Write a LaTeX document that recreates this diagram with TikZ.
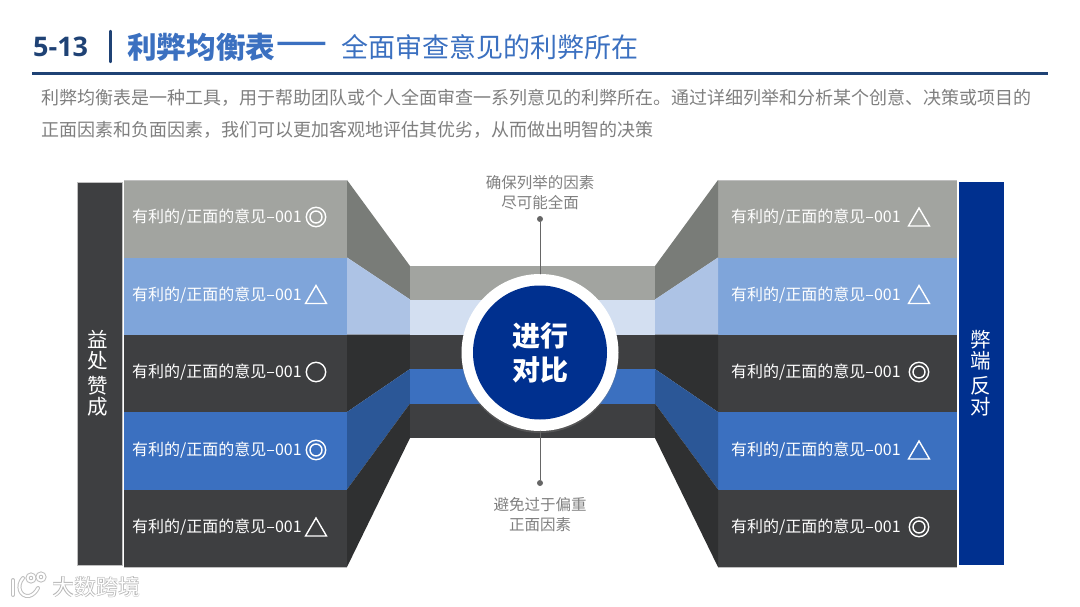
\documentclass[tikz,border=0pt]{standalone}
\usepackage{fontspec}
\setmainfont{Noto Sans CJK SC}
\newfontfamily\numfont{Open Sans}
\usepackage{tikz}
\usetikzlibrary{shadows}
\definecolor{navy}{HTML}{1F4275}
\definecolor{midblue}{HTML}{3B70C0}
\definecolor{deepblue}{HTML}{00308F}
\definecolor{skyblue}{HTML}{7FA5DA}
\definecolor{stone}{HTML}{A2A4A0}
\definecolor{slate}{HTML}{3E3F41}
\definecolor{inktext}{HTML}{7F7F7F}
\definecolor{faceA}{HTML}{797C78}
\definecolor{faceB}{HTML}{ADC3E5}
\definecolor{faceC}{HTML}{2F3031}
\definecolor{faceD}{HTML}{2B5797}
\definecolor{paleblue}{HTML}{D3DFF1}
\begin{document}
\begin{tikzpicture}[x=1pt,y=-1pt,line cap=round,
  rowtext/.style={text=white,font=\fontsize{16}{16}\selectfont,anchor=west,inner sep=0pt},
  signline/.style={draw=white,line width=1.4pt},
  note/.style={text=inktext,font=\fontsize{15.5}{19.5}\selectfont,align=center,inner sep=0pt},
  sidetext/.style={text=white,font=\fontsize{20.5}{22}\selectfont,align=center,inner sep=0pt},
  dotmark/.style={circle,fill=black!60,inner sep=0pt,minimum size=6pt},
  lead/.style={draw=black!60,line width=1pt},
  edgeline/.style={draw=black!25,line width=.6pt,line cap=butt},
  logoline/.style={draw=black!25,double=white,double distance=2pt,line width=1pt}]
\useasboundingbox (0,0) rectangle (1080,607);
% title
\node[anchor=west,inner sep=0pt,text=navy,font=\numfont\bfseries\fontsize{27}{27}\selectfont] (num) at (33,47) {5-13};
\draw[navy,line width=2.4pt] (110.5,31) -- (110.5,62);
\node[anchor=west,inner sep=0pt,text=midblue,font=\bfseries\fontsize{29.6}{30}\selectfont] (title) at (127,47) {利弊均衡表};
\node[anchor=west,inner sep=0pt,text=midblue,font=\bfseries\fontsize{29.6}{30}\selectfont] (dash) at (276,47) {——};
\node[anchor=west,inner sep=0pt,text=midblue,font=\fontsize{27}{30}\selectfont] (sub) at (341,47) {全面审查意见的利弊所在};
\draw[navy,line width=3pt,line cap=butt] (32,74) -- (1048,74);
\node[anchor=west,inner sep=0pt,text=inktext,font=\fontsize{18}{18}\selectfont] (introa) at (41,98) {利弊均衡表是一种工具，用于帮助团队或个人全面审查一系列意见的利弊所在。通过详细列举和分析某个创意、决策或项目的};
\node[anchor=west,inner sep=0pt,text=inktext,font=\fontsize{18}{18}\selectfont] (introb) at (41,130) {正面因素和负面因素，我们可以更加客观地评估其优劣，从而做出明智的决策};
% side bars
\fill[slate] (77,182) rectangle (122,565);
\draw[edgeline] (77,182) rectangle (122,565);
\fill[deepblue] (959,182) rectangle (1004,565);
\node[sidetext] (pros) at (98,373) {益\\[-1pt]处\\[3pt]赞\\[-1pt]成};
\node[sidetext] (cons) at (980.5,373) {弊\\[-1pt]端\\[3pt]反\\[-1pt]对};
% left rows
\fill[stone] (124,180) rectangle (347,257.5);
\fill[skyblue] (124,257.5) rectangle (347,334.5);
\fill[slate] (124,334.5) rectangle (347,412);
\fill[midblue] (124,412) rectangle (347,489.5);
\fill[slate] (124,489.5) rectangle (347,567);
\draw[edgeline] (124,180) -- (347,180);
\draw[edgeline] (124,567) -- (347,567);
% right rows
\fill[stone] (718,180) rectangle (957,257.5);
\fill[skyblue] (718,257.5) rectangle (957,334.5);
\fill[slate] (718,334.5) rectangle (957,412);
\fill[midblue] (718,412) rectangle (957,489.5);
\fill[slate] (718,489.5) rectangle (957,567);
\draw[edgeline] (718,180) -- (957,180);
\draw[edgeline] (718,567) -- (957,567);
% slanted faces
\fill[faceA] (347,180) -- (410,266) -- (410,299.5) -- (347,257.5) -- cycle;
\fill[faceB] (347,257.5) -- (410,299.5) -- (410,334.5) -- (347,334.5) -- cycle;
\fill[faceC] (347,334.5) -- (410,334.5) -- (410,369) -- (347,412) -- cycle;
\fill[faceD] (347,412) -- (410,369) -- (410,403.5) -- (347,489.5) -- cycle;
\fill[faceC] (347,489.5) -- (410,403.5) -- (410,438) -- (347,567) -- cycle;
\fill[faceA] (718,180) -- (655,266) -- (655,299.5) -- (718,257.5) -- cycle;
\fill[faceB] (718,257.5) -- (655,299.5) -- (655,334.5) -- (718,334.5) -- cycle;
\fill[faceC] (718,334.5) -- (655,334.5) -- (655,369) -- (718,412) -- cycle;
\fill[faceD] (718,412) -- (655,369) -- (655,403.5) -- (718,489.5) -- cycle;
\fill[faceC] (718,489.5) -- (655,403.5) -- (655,438) -- (718,567) -- cycle;
% middle stack
\fill[stone] (410,266) rectangle (655,299.5);
\fill[paleblue] (410,299.5) rectangle (655,334.5);
\fill[slate] (410,334.5) rectangle (655,369);
\fill[midblue] (410,369) rectangle (655,403.5);
\fill[slate] (410,403.5) rectangle (655,438);
% notes and leads
\node[note] (upper) at (540,192.5) {确保列举的因素\\尽可能全面};
\node[note] (lower) at (540,514.5) {避免过于偏重\\正面因素};
\node[dotmark] (updot) at (540,219) {};
\node[dotmark] (lowdot) at (540,483) {};
\node[circle,fill=white,minimum size=157pt,inner sep=0pt,drop shadow={shadow xshift=0pt,shadow yshift=-2pt,opacity=.35}] (hub) at (540,352.5) {};
\draw[lead] (updot) -- (hub);
\draw[lead] (lowdot) -- (hub);
\node[circle,fill=deepblue,minimum size=134pt,inner sep=0pt,text=white,align=center,font=\bfseries\fontsize{28}{34}\selectfont] (core) at (540,352.5) {进行\\对比};
% left labels
\node[rowtext] (la) at (132,217) {有利的/正面的意见–001};
\node[rowtext] (lb) at (132,295) {有利的/正面的意见–001};
\node[rowtext] (lc) at (132,372) {有利的/正面的意见–001};
\node[rowtext] (ld) at (132,450) {有利的/正面的意见–001};
\node[rowtext] (le) at (132,527) {有利的/正面的意见–001};
\draw[signline] (316,217) circle (9.7);
\draw[signline] (316,217) circle (6);
\draw[signline] (316,285.5) -- (305.5,303.5) -- (326.5,303.5) -- cycle;
\draw[signline] (316,372) circle (9.7);
\draw[signline] (316,450) circle (9.7);
\draw[signline] (316,450) circle (6);
\draw[signline] (316,518) -- (305.5,536) -- (326.5,536) -- cycle;
% right labels
\node[rowtext] (ra) at (731,217) {有利的/正面的意见–001};
\node[rowtext] (rb) at (731,295) {有利的/正面的意见–001};
\node[rowtext] (rc) at (731,372) {有利的/正面的意见–001};
\node[rowtext] (rd) at (731,450) {有利的/正面的意见–001};
\node[rowtext] (re) at (731,527) {有利的/正面的意见–001};
\draw[signline] (919,208) -- (908.5,226) -- (929.5,226) -- cycle;
\draw[signline] (919,285.5) -- (908.5,303.5) -- (929.5,303.5) -- cycle;
\draw[signline] (919,372) circle (9.7);
\draw[signline] (919,372) circle (6);
\draw[signline] (919,441) -- (908.5,459) -- (929.5,459) -- cycle;
\draw[signline] (919,527) circle (9.7);
\draw[signline] (919,527) circle (6);
% logo
\draw[logoline] (13,580) -- (13,595);
\draw[logoline] (23,578) .. controls (16,586) and (20,597) .. (29,596) .. controls (33,595) and (36,592) .. (38,588);
\draw[logoline] (31,578) circle (3.5);
\draw[logoline] (41,577) circle (3.5);
\node[anchor=west,inner sep=0pt,text=black!30,font=\bfseries\fontsize{22}{22}\selectfont] (brand) at (52,587) {大数跨境};
\node[anchor=west,inner sep=0pt,text=white,font=\fontsize{22}{22}\selectfont] (brandtop) at (52,587) {大数跨境};
\end{tikzpicture}
\end{document}
